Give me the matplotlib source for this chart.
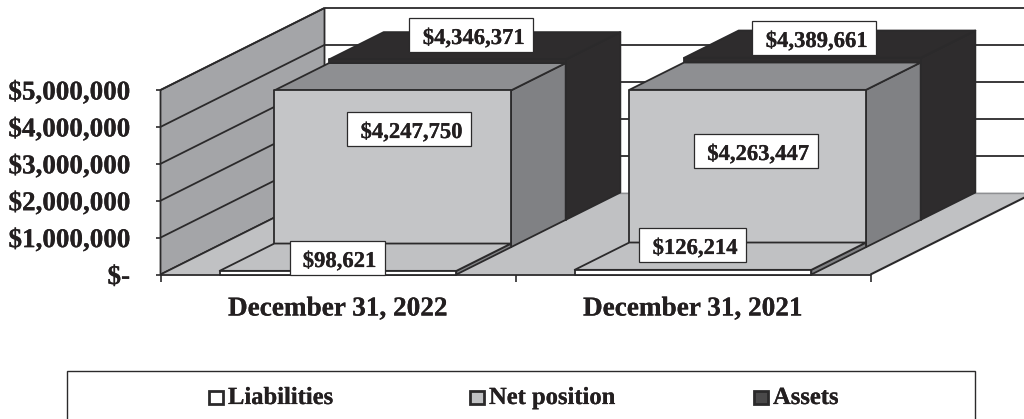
import matplotlib
matplotlib.use("Agg")
import matplotlib.pyplot as plt
import matplotlib.patheffects as pe
from matplotlib.patches import Polygon, Rectangle

categories = ["December 31, 2022", "December 31, 2021"]
series_names = ["Liabilities", "Net position", "Assets"]
liabilities = [98621, 126214]
net_position = [4247750, 4263447]
assets = [4346371, 4389661]
tick_values = [0, 1000000, 2000000, 3000000, 4000000, 5000000]
tick_labels = ["$-", "$1,000,000", "$2,000,000", "$3,000,000", "$4,000,000", "$5,000,000"]

plt.rcParams['font.family'] = ['Liberation Serif', 'DejaVu Serif']
plt.rcParams['font.weight'] = 'bold'

LINE = '#2b2a2b'
INK = '#231f20'
WALL = '#a4a5a8'
FLOOR = '#c0c1c3'
# front, top, side of each series
colors = {
    "Liabilities": ('#ffffff', '#c0c1c3', '#808184'),
    "Net position": ('#c4c5c7', '#8e8f92', '#808184'),
    "Assets": ('#2e2c2d', '#2e2c2d', '#2e2c2d'),
}
heavy = [pe.withStroke(linewidth=0.15, foreground=INK)]

fig = plt.figure(figsize=(10.24, 4.19), dpi=100)
ax = fig.add_axes([0, 0, 1, 1])
ax.set_xlim(0, 1024)
ax.set_ylim(419, 0)
ax.axis('off')


# oblique projection: category position, depth slot (0-3), dollar value
def proj(c, d, v):
    return (160.5 + c * 355 + d * 54.67, 274.5 - v / 1e6 * 36.9 - d * 27.33)


def face(pts, color, lw=1.3, z=1):
    ax.add_patch(Polygon(pts, closed=True, facecolor=color, edgecolor=LINE, linewidth=lw, zorder=z, joinstyle='round'))


def seg(p, q, color=LINE, lw=1.3, z=1.5):
    ax.plot([p[0], q[0]], [p[1], q[1]], color=color, lw=lw, zorder=z, solid_capstyle='butt')


top = tick_values[-1]
# side wall and floor
face([proj(0, 0, 0), proj(0, 3, 0), proj(0, 3, top), proj(0, 0, top)], WALL)
ax.add_patch(Polygon([proj(0, 0, 0), proj(2, 0, 0), proj(2, 3, 0), proj(0, 3, 0)], closed=True,
                     facecolor=FLOOR, edgecolor='none', zorder=1))
seg(proj(0, 3, 0), proj(2, 3, 0), color='#8e8f92', lw=1.0)
seg(proj(2, 0, 0), proj(2, 3, 0), lw=1.5)
seg(proj(0, 0, 0), proj(0, 3, 0), lw=1.3)

for v in tick_values[1:]:
    # gridlines on the wall and the back plane
    seg(proj(0, 0, v), proj(0, 3, v))
    seg(proj(0, 3, v), proj(2, 3, v))

for v, lab in zip(tick_values, tick_labels):
    x, y = proj(0, 0, v)
    seg((x - 5, y), (x, y), lw=1.2, z=2)
    ax.text(130, y + 9.5, lab, ha='right', va='baseline', fontsize=19.5, color=INK, path_effects=heavy)

seg(proj(0, 0, 0), proj(2, 0, 0), z=2)
for c in [0, 1, 2]:
    x, y = proj(c, 0, 0)
    seg((x, y), (x, y + 7), lw=1.2, z=2)
for i, cat in enumerate(categories):
    x, y = proj(i + 0.5, 0, 0)
    ax.text(x - 0.5, 315.5, cat, ha='center', va='baseline', fontsize=19.6, color=INK, path_effects=heavy)

# bars back to front
gap = 1 / 6
z = 3
for d, (name, vals) in reversed(list(enumerate(zip(series_names, [liabilities, net_position, assets])))):
    fc, tc, sc = colors[name]
    for i, v in enumerate(vals):
        x0, x1 = i + gap, i + 1 - gap
        z += 1
        face([proj(x1, d, 0), proj(x1, d + 1, 0), proj(x1, d + 1, v), proj(x1, d, v)], sc, z=z)
        face([proj(x0, d, v), proj(x1, d, v), proj(x1, d + 1, v), proj(x0, d + 1, v)], tc, z=z)
        face([proj(x0, d, 0), proj(x1, d, 0), proj(x1, d, v), proj(x0, d, v)], fc, z=z)

# data label boxes (centre x, centre y in px)
label_pos = {
    "Liabilities": [(337, 258), (692.5, 245)],
    "Net position": [(409, 129), (755.5, 151)],
    "Assets": [(471, 35), (814, 38)],
}
box_w = {"Liabilities": [95, 107], "Net position": [124, 124], "Assets": [124, 124]}
for name, vals in zip(series_names, [liabilities, net_position, assets]):
    for i, v in enumerate(vals):
        cx, cy = label_pos[name][i]
        w = box_w[name][i]
        ax.add_patch(Rectangle((cx - w / 2, cy - 17), w, 34, facecolor='white', edgecolor=LINE, linewidth=0.9, zorder=50))
        ax.text(cx + 2.5, cy + 9, f"${v:,}", ha='center', va='baseline', fontsize=16.3, color=INK, zorder=51,
                path_effects=heavy)

# legend
ax.add_patch(Rectangle((67, 371), 908, 60, facecolor='white', edgecolor=LINE, linewidth=1.0, zorder=2, clip_on=True))
leg_x = [208.5, 469.5, 753.5]
leg_fill = ['white', '#c0c1c3', '#4a494a']
for x, name, fc in zip(leg_x, series_names, leg_fill):
    ax.add_patch(Rectangle((x, 390.5), 14, 13, facecolor=fc, edgecolor=LINE, linewidth=2.0, zorder=3))
    ax.text(x + 19.5, 404, name, ha='left', va='baseline', fontsize=17.7, color=INK, zorder=3, path_effects=heavy)

fig.savefig("out.png", dpi=100)
